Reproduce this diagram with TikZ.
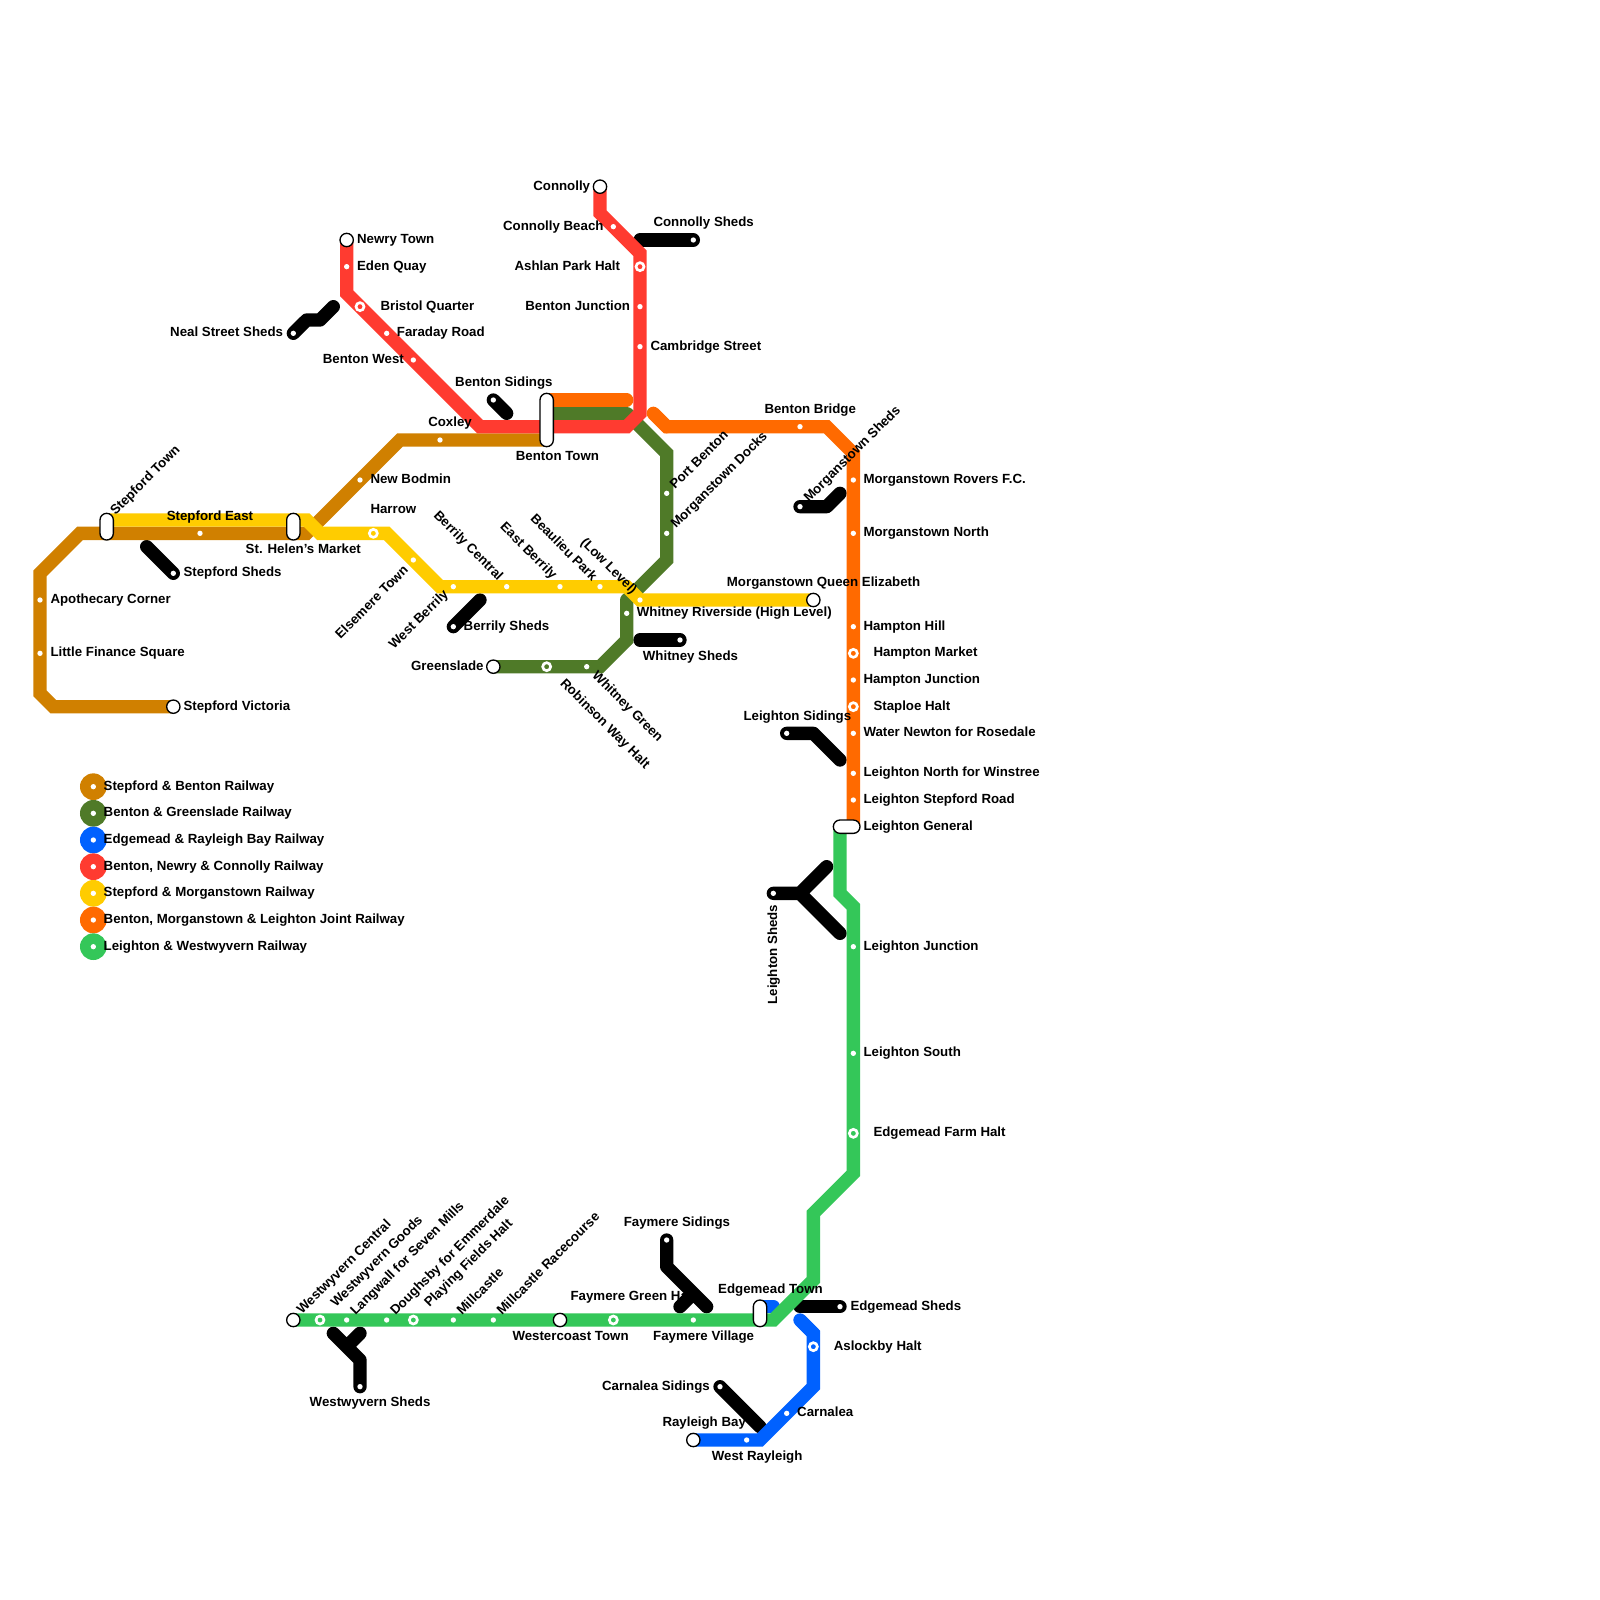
\documentclass[tikz,border=0pt]{standalone}
\usepackage{fontspec}
\setmainfont{Liberation Sans}
\definecolor{cbrown}{HTML}{D08000}
\definecolor{cdgreen}{HTML}{4F7A28}
\definecolor{cblue}{HTML}{0061FF}
\definecolor{cred}{HTML}{FF3B30}
\definecolor{cyellow}{HTML}{FFCC00}
\definecolor{corange}{HTML}{FF6A00}
\definecolor{cgreen}{HTML}{34C759}
\tikzset{
  rail/.style={line width=13.33pt,miter limit=10},
  railend/.style={rail,line cap=round},
  depot/.style={line width=13.33pt,line cap=round,line join=round,black},
  stadot/.style={circle,fill=white,inner sep=0pt,minimum size=5.33pt},
  ring/.style={circle,fill=#1,draw=white,line width=2.67pt,inner sep=0pt,minimum size=8pt},
  termin/.style={circle,fill=white,draw=black,line width=1.33pt,inner sep=0pt,minimum size=13.33pt},
  pillbox/.style={fill=white,draw=black,line width=1.33pt,rounded corners=6.6pt,inner sep=0pt},
  lbl/.style={font=\bfseries\fontsize{13.28}{16}\selectfont,inner sep=0pt,text=black},
  legdisc/.style={circle,fill=#1,inner sep=0pt,minimum size=26.67pt},
}
\newcommand{\lab}[6][0]{\node[lbl,rotate=#1,anchor=#3] (#2) at (#4,#5) {#6};}
\begin{document}
\begin{tikzpicture}[x=1pt,y=-1pt]
\useasboundingbox (0,0) rectangle (1600,1600);
\fill[white] (0,0) rectangle (1600,1600);
% depot vertices
\coordinate (ns1) at (293.33,333.33); \coordinate (ns2) at (306.67,320); \coordinate (ns3) at (320,320); \coordinate (ns4) at (333.33,306.67);
\coordinate (ss1) at (173.33,573.33); \coordinate (ss2) at (146.67,546.67);
\coordinate (bs1) at (493.33,400); \coordinate (bs2) at (506.67,413.33);
\coordinate (cs1) at (693.33,240); \coordinate (cs2) at (640,240);
\coordinate (ms1) at (800,506.67); \coordinate (ms2) at (826.67,506.67); \coordinate (ms3) at (840,493.33);
\coordinate (be1) at (453.33,626.67); \coordinate (be2) at (480,600);
\coordinate (ws1) at (680,640); \coordinate (ws2) at (640,640);
\coordinate (ls1) at (786.67,733.33); \coordinate (ls2) at (813.33,733.33); \coordinate (ls3) at (840,760);
\coordinate (lh1) at (773.33,893.33); \coordinate (lh2) at (800,893.33); \coordinate (lh3) at (826.67,866.67); \coordinate (lh4) at (840,933.33);
\coordinate (wv1) at (360,1386.67); \coordinate (wv2) at (360,1360); \coordinate (wv3) at (333.33,1333.33); \coordinate (wv4) at (346.67,1346.67); \coordinate (wv5) at (360,1333.33);
\coordinate (fs1) at (666.67,1240); \coordinate (fs2) at (666.67,1266.67); \coordinate (fs3) at (706.67,1306.67); \coordinate (fs4) at (693.33,1293.33); \coordinate (fs5) at (680,1306.67);
\coordinate (ca1) at (720,1386.67); \coordinate (ca2) at (760,1426.67);
\coordinate (es1) at (840,1306.67); \coordinate (es2) at (800,1306.67);
% depots
\draw[depot] (ns1)--(ns2)--(ns3)--(ns4);
\draw[depot] (ss1)--(ss2);
\draw[depot] (bs1)--(bs2);
\draw[depot] (cs1)--(cs2);
\draw[depot] (ms1)--(ms2)--(ms3);
\draw[depot] (be1)--(be2);
\draw[depot] (ws1)--(ws2);
\draw[depot] (ls1)--(ls2)--(ls3);
\draw[depot] (lh1)--(lh2)--(lh3) (lh2)--(lh4);
\draw[depot] (wv1)--(wv2)--(wv3) (wv4)--(wv5);
\draw[depot] (fs1)--(fs2)--(fs3) (fs4)--(fs5);
\draw[depot] (ca1)--(ca2);
\draw[depot] (es1)--(es2);
% line vertices
\coordinate (a1) at (173.33,706.67); \coordinate (a2) at (53.33,706.67); \coordinate (a3) at (40,693.33); \coordinate (a4) at (40,573.33); \coordinate (a5) at (80,533.33); \coordinate (a6) at (306.67,533.33); \coordinate (a7) at (400,440); \coordinate (a8) at (546.67,440);
\coordinate (g1) at (546.67,413.33); \coordinate (g2) at (626.67,413.33); \coordinate (g3) at (666.67,453.33); \coordinate (g4) at (666.67,560); \coordinate (g5) at (626.67,600); \coordinate (g6) at (626.67,640); \coordinate (g7) at (600,666.67); \coordinate (g8) at (493.33,666.67);
\coordinate (u1) at (760,1306.67); \coordinate (u2) at (773.33,1306.67); \coordinate (u3) at (800,1320); \coordinate (u4) at (813.33,1333.33); \coordinate (u5) at (813.33,1386.67); \coordinate (u6) at (760,1440); \coordinate (u7) at (693.33,1440);
\coordinate (r1) at (600,186.67); \coordinate (r2) at (600,213.33); \coordinate (r3) at (640,253.33); \coordinate (r4) at (640,413.33); \coordinate (r5) at (626.67,426.67); \coordinate (r6) at (480,426.67); \coordinate (r7) at (346.67,293.33); \coordinate (r8) at (346.67,240);
\coordinate (y1) at (106.67,520); \coordinate (y2) at (306.67,520); \coordinate (y3) at (320,533.33); \coordinate (y4) at (386.67,533.33); \coordinate (y5) at (440,586.67); \coordinate (y6) at (626.67,586.67); \coordinate (y7) at (640,600); \coordinate (y8) at (813.33,600);
\coordinate (o1) at (546.67,400); \coordinate (o2) at (626.67,400); \coordinate (o3) at (653.33,413.33); \coordinate (o4) at (666.67,426.67); \coordinate (o5) at (826.67,426.67); \coordinate (o6) at (853.33,453.33); \coordinate (o7) at (853.33,826.67);
\coordinate (e1) at (840,826.67); \coordinate (e2) at (840,893.33); \coordinate (e3) at (853.33,906.67); \coordinate (e4) at (853.33,1173.33); \coordinate (e5) at (813.33,1213.33); \coordinate (e6) at (813.33,1280); \coordinate (e7) at (773.33,1320); \coordinate (e8) at (293.33,1320);
% lines
\draw[rail,cbrown] (a1)--(a2)--(a3)--(a4)--(a5)--(a6)--(a7)--(a8);
\draw[railend,cdgreen] (g1)--(g2);
\draw[rail,cdgreen] (g2)--(g3)--(g4)--(g5);
\draw[rail,cdgreen,line cap=round] (g5)--(g6);
\draw[rail,cdgreen] (g5)--(g6)--(g7)--(g8);
\draw[railend,cblue] (u1)--(u2);
\draw[railend,cblue] (u3)--(u4);
\draw[rail,cblue] (u3)--(u4)--(u5)--(u6)--(u7);
\draw[rail,cred] (r1)--(r2)--(r3)--(r4)--(r5)--(r6)--(r7)--(r8);
\draw[rail,cyellow] (y1)--(y2)--(y3)--(y4)--(y5)--(y6)--(y7)--(y8);
\draw[railend,corange] (o1)--(o2);
\draw[railend,corange] (o3)--(o4);
\draw[rail,corange] (o3)--(o4)--(o5)--(o6)--(o7);
\draw[rail,cgreen] (e1)--(e2)--(e3)--(e4)--(e5)--(e6)--(e7)--(e8);
% depot dots
\foreach \d in {ns1,ss1,bs1,cs1,ms1,be1,ws1,ls1,lh1,wv1,fs1,ca1,es1} {\node[stadot] (dot\d) at (\d) {};}
% stations
\foreach \n/\x/\y in {s1/40/600,s2/40/653.33,s3/200/533.33,s4/360/480,s5/440/440,
 s6/413.33/560,s7/453.33/586.67,s8/506.67/586.67,s9/560/586.67,s10/600/586.67,s11/640/600,
 s12/666.67/493.33,s13/666.67/533.33,s14/626.67/613.33,s15/586.67/666.67,
 s16/613.33/226.67,s17/640/306.67,s18/640/346.67,s19/346.67/266.67,s20/386.67/333.33,s21/413.33/360,
 s22/800/426.67,s23/853.33/480,s24/853.33/533.33,s25/853.33/626.67,s26/853.33/680,s27/853.33/733.33,s28/853.33/773.33,s29/853.33/800,
 s30/853.33/946.67,s31/853.33/1053.33,s32/346.67/1320,s33/386.67/1320,s34/453.33/1320,s35/493.33/1320,s36/693.33/1320,
 s37/786.67/1413.33,s38/746.67/1440}
 {\node[stadot] (\n) at (\x,\y) {};}
% interchange-style rings
\node[ring=cyellow] (i1) at (373.33,533.33) {};
\node[ring=cdgreen] (i2) at (546.67,666.67) {};
\node[ring=cred] (i3) at (640,266.67) {};
\node[ring=cred] (i4) at (360,306.67) {};
\node[ring=corange] (i5) at (853.33,653.33) {};
\node[ring=corange] (i6) at (853.33,706.67) {};
\node[ring=cgreen] (i7) at (853.33,1133.33) {};
\node[ring=cgreen] (i8) at (320,1320) {};
\node[ring=cgreen] (i9) at (413.33,1320) {};
\node[ring=cgreen] (i10) at (613.33,1320) {};
\node[ring=cblue] (i11) at (813.33,1346.67) {};
% termini
\foreach \n/\c in {t1/a1,t2/y8,t3/g8,t4/r1,t5/r8,t6/e8,t7/u7} {\node[termin] (\n) at (\c) {};}
\node[termin] (t8) at (560,1320) {};
% pills
\node[pillbox,minimum width=13.33pt,minimum height=26.67pt] (p1) at (106.67,526.67) {};
\node[pillbox,minimum width=13.33pt,minimum height=26.67pt] (p2) at (293.33,526.67) {};
\node[pillbox,minimum width=13.33pt,minimum height=53.33pt] (p3) at (546.67,420) {};
\node[pillbox,minimum width=13.33pt,minimum height=26.67pt] (p4) at (760,1313.33) {};
\node[pillbox,minimum width=26.67pt,minimum height=13.33pt] (p5) at (846.67,826.67) {};
% legend
\foreach \n/\c/\y in {1/cbrown/786.67,2/cdgreen/813.33,3/cblue/840,4/cred/866.67,5/cyellow/893.33,6/corange/920,7/cgreen/946.67}
 {\node[legdisc=\c] (ld\n) at (93.33,\y) {}; \node[stadot] (lp\n) at (93.33,\y) {};}
\lab{lg1}{base west}{103.5}{790}{Stepford \& Benton Railway}
\lab{lg2}{base west}{103.5}{816.7}{Benton \& Greenslade Railway}
\lab{lg3}{base west}{103.5}{843.4}{Edgemead \& Rayleigh Bay Railway}
\lab{lg4}{base west}{103.5}{870}{Benton, Newry \& Connolly Railway}
\lab{lg5}{base west}{103.5}{896.7}{Stepford \& Morganstown Railway}
\lab{lg6}{base west}{103.5}{923.4}{Benton, Morganstown \& Leighton Joint Railway}
\lab{lg7}{base west}{103.5}{950}{Leighton \& Westwyvern Railway}
% horizontal labels
\lab{n1}{base west}{50.3}{603.4}{Apothecary Corner}
\lab{n2}{base west}{50.3}{656.7}{Little Finance Square}
\lab{n3}{base west}{183.3}{710}{Stepford Victoria}
\lab{n4}{base west}{183.3}{576.7}{Stepford Sheds}
\lab{n5}{base}{210}{520}{Stepford East}
\lab{n6}{base}{303.3}{553.3}{St. Helen’s Market}
\lab{n7}{base west}{370.3}{483.4}{New Bodmin}
\lab{n8}{base west}{370.3}{513.4}{Harrow}
\lab{n9}{base east}{472}{426.7}{Coxley}
\lab{n10}{base west}{463.5}{630}{Berrily Sheds}
\lab{n11}{base east}{483.7}{670}{Greenslade}
\lab{n12}{base east}{590.3}{190}{Connolly}
\lab{n13}{base east}{603.7}{230}{Connolly Beach}
\lab{n14}{base west}{653.3}{226.7}{Connolly Sheds}
\lab{n15}{base east}{620.3}{270}{Ashlan Park Halt}
\lab{n16}{base east}{630.3}{310}{Benton Junction}
\lab{n17}{base west}{650.3}{350}{Cambridge Street}
\lab{n18}{base west}{455}{386.7}{Benton Sidings}
\lab{n19}{base west}{515.7}{460}{Benton Town}
\lab{n20}{base west}{764.3}{413.4}{Benton Bridge}
\lab{n21}{base west}{863.3}{483.4}{Morganstown Rovers F.C.}
\lab{n22}{base west}{863.3}{536.7}{Morganstown North}
\lab{n23}{base west}{726.7}{586.7}{Morganstown Queen Elizabeth}
\lab{n24}{base west}{636.7}{616.7}{Whitney Riverside (High Level)}
\lab{n25}{base west}{642.7}{660}{Whitney Sheds}
\lab{n26}{base west}{863.3}{630}{Hampton Hill}
\lab{n27}{base west}{873.3}{656.7}{Hampton Market}
\lab{n28}{base west}{863.3}{683.4}{Hampton Junction}
\lab{n29}{base west}{873.3}{710}{Staploe Halt}
\lab{n30}{base west}{863.3}{736.7}{Water Newton for Rosedale}
\lab{n31}{base west}{863.3}{776.7}{Leighton North for Winstree}
\lab{n32}{base west}{863.3}{803.4}{Leighton Stepford Road}
\lab{n33}{base west}{863.3}{830}{Leighton General}
\lab{n34}{base west}{863.3}{950}{Leighton Junction}
\lab{n35}{base west}{863.3}{1056.7}{Leighton South}
\lab{n36}{base west}{873.3}{1136.7}{Edgemead Farm Halt}
\lab{n37}{base west}{743.3}{720}{Leighton Sidings}
\lab{n38}{base west}{356.9}{243.4}{Newry Town}
\lab{n39}{base west}{356.9}{270}{Eden Quay}
\lab{n40}{base west}{380.3}{310}{Bristol Quarter}
\lab{n41}{base west}{396.7}{336.7}{Faraday Road}
\lab{n42}{base east}{404}{363.4}{Benton West}
\lab{n43}{base east}{283.3}{336.7}{Neal Street Sheds}
\lab{n44}{base west}{512.3}{1340}{Westercoast Town}
\lab{n45}{base west}{309.5}{1406.7}{Westwyvern Sheds}
\lab{n46}{base west}{570.4}{1300}{Faymere Green Halt}
\lab{n47}{base west}{623.6}{1226.7}{Faymere Sidings}
\lab{n48}{base west}{653}{1340}{Faymere Village}
\lab{n49}{base west}{718}{1293.4}{Edgemead Town}
\lab{n50}{base west}{850.3}{1310}{Edgemead Sheds}
\lab{n51}{base west}{833.6}{1350}{Aslockby Halt}
\lab{n52}{base east}{710}{1390}{Carnalea Sidings}
\lab{n53}{base west}{797}{1416.7}{Carnalea}
\lab{n54}{base west}{662.3}{1426.7}{Rayleigh Bay}
\lab{n55}{base west}{711.7}{1460}{West Rayleigh}
% rotated labels
\lab[90]{q1}{base east}{777}{904.5}{Leighton Sheds}
\lab[45]{q2}{base west}{115.5}{516}{Stepford Town}
\lab[45]{q3}{base east}{409}{571}{Elsemere Town}
\lab[45]{q4}{base east}{449}{595}{West Berrily}
\lab[-45]{q5}{base east}{498}{581}{Berrily Central}
\lab[-45]{q6}{base east}{552}{580}{East Berrily}
\lab[-45]{q7}{base east}{592}{582}{Beaulieu Park}
\lab[-45]{q8}{base east}{632}{595}{(Low Level)}
\lab[-45]{q9}{base west}{591.5}{676}{Whitney Green}
\lab[-45]{q10}{base west}{559.5}{684}{Robinson Way Halt}
\lab[45]{q11}{base west}{675}{490}{Port Benton}
\lab[45]{q12}{base west}{676}{529}{Morganstown Docks}
\lab[45]{q13}{base west}{809}{503}{Morganstown Sheds}
\lab[45]{q14}{base west}{302}{1315}{Westwyvern Central}
\lab[45]{q15}{base west}{336}{1308}{Westwyvern Goods}
\lab[45]{q16}{base west}{355.5}{1316}{Langwall for Seven Mills}
\lab[45]{q17}{base west}{395.5}{1316}{Doughsby for Emmerdale}
\lab[45]{q18}{base west}{429.5}{1308}{Playing Fields Halt}
\lab[45]{q19}{base west}{462}{1316}{Millcastle}
\lab[45]{q20}{base west}{502}{1316}{Millcastle Racecourse}
\end{tikzpicture}
\end{document}
